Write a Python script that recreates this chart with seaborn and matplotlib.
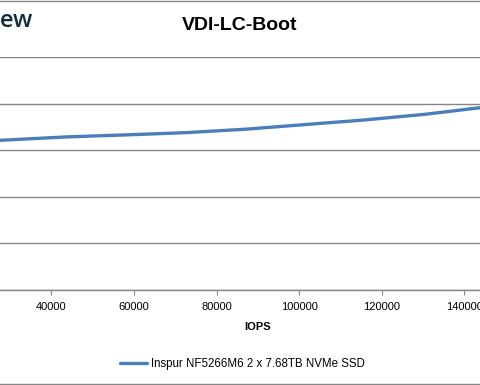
import numpy as np
import pandas as pd
import matplotlib
matplotlib.use("Agg")
import matplotlib.pyplot as plt
import seaborn as sns
from matplotlib.lines import Line2D

# data (latency in ms vs IOPS)
iops = [14500, 29000, 43500, 58000, 72500, 87000, 101500, 116000, 130500, 145000]
latency = [1.58, 1.609, 1.642, 1.664, 1.688, 1.725, 1.775, 1.825, 1.885, 1.962]
series_name = "Inspur NF5266M6 2 x 7.68TB NVMe SSD"
x_ticks = [40000, 60000, 80000, 100000, 120000, 140000]
y_ticks = [0, 0.5, 1.0, 1.5, 2.0, 2.5]

df = pd.DataFrame({"IOPS": iops, "Latency": latency, "Device": series_name})

sns.set_style("white")
plt.rcParams["font.family"] = ["Liberation Sans", "DejaVu Sans"]
plt.rcParams["text.color"] = "black"
plt.rcParams["xtick.color"] = "black"
plt.rcParams["axes.labelcolor"] = "black"

grid_col = "#868686"

fig = plt.figure(figsize=(4.8, 3.85), dpi=100)
# plot area runs past the left and right edges (the reference is a crop)
ax = fig.add_axes([-0.2373, 0.2468, 1.5488, 0.6052])

sns.lineplot(data=df, x="IOPS", y="Latency", hue="Device", palette=["#4a7ebb"],
             linewidth=2.4, ax=ax, legend=False)

ax.set_xlim(0, 180000)
ax.set_ylim(0, 2.5)
ax.set_xticks(x_ticks)
ax.set_xticklabels([str(t) for t in x_ticks])
ax.set_yticks(y_ticks)
ax.set_yticklabels([])
ax.tick_params(axis="y", length=0)
ax.yaxis.grid(True, color=grid_col, linewidth=1)
ax.xaxis.grid(False)
for s in ["top", "right"]:
    ax.spines[s].set_visible(False)
for s in ["left", "bottom"]:
    ax.spines[s].set_color(grid_col)
    ax.spines[s].set_linewidth(1)
ax.tick_params(axis="x", direction="out", length=3.6, width=0.8, color=grid_col,
               labelcolor="black", labelsize=8, pad=5, bottom=True)
ax.set_xlabel("IOPS", fontsize=8, fontweight="bold", labelpad=7, color="black")
ax.set_ylabel("")

fig.suptitle("VDI-LC-Boot", x=240 / 480, y=1 - 17 / 385, fontsize=14,
             fontweight="bold", va="top", color="black")

# cut-off logo text in the top-left corner
fig.text(33 / 480, 1 - 27 / 385, "StorageReview", fontsize=17, color="#0f2b3d",
         ha="right", va="baseline", family=["Open Sans", "DejaVu Sans"], fontweight=600)

# legend below
h = [Line2D([0], [0], color="#4a7ebb", lw=2.4)]
fig.legend(h, [series_name], loc="center", bbox_to_anchor=(242 / 480, 1 - 364 / 385),
           frameon=False, fontsize=8.3, handlelength=2.35, handletextpad=0.35,
           labelcolor="black")

# chart area border lines at top and bottom
fig.add_artist(Line2D([0, 1], [1 - 0.5 / 385, 1 - 0.5 / 385], transform=fig.transFigure,
                      color=grid_col, lw=1))
fig.add_artist(Line2D([0, 1], [1 - 383.5 / 385, 1 - 383.5 / 385], transform=fig.transFigure,
                      color=grid_col, lw=1))

fig.savefig("out.png", dpi=100)
